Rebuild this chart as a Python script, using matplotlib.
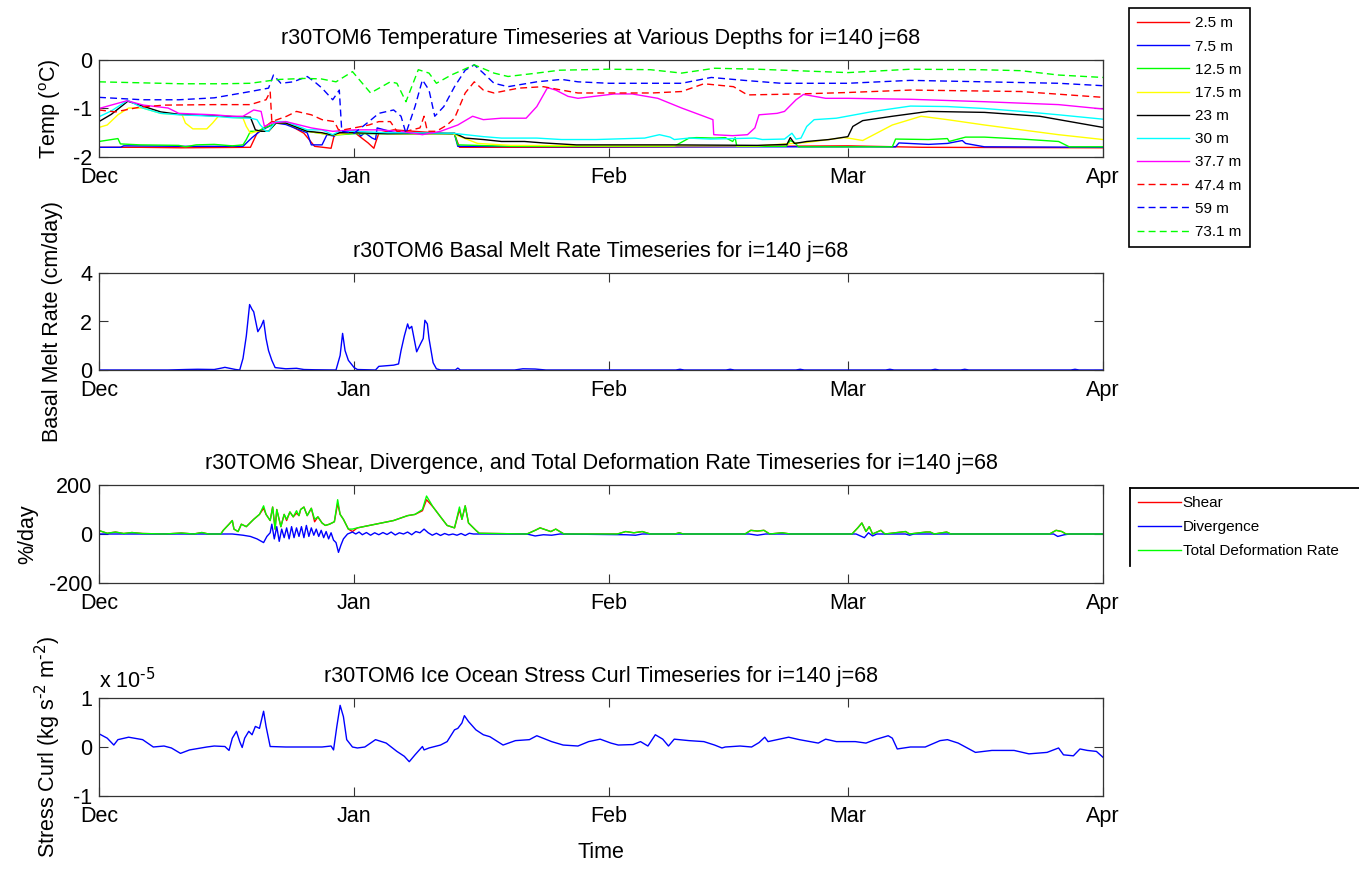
import matplotlib
matplotlib.use('Agg')
import matplotlib.pyplot as plt
from matplotlib.lines import Line2D

plt.rcParams['font.family'] = ['Liberation Sans', 'DejaVu Sans']
plt.rcParams['axes.unicode_minus'] = False
plt.rcParams['mathtext.default'] = 'regular'

# ---------------- data (days since 1 Dec) ----------------
month_days = [0, 31, 62, 91, 122]
month_labels = ['Dec', 'Jan', 'Feb', 'Mar', 'Apr']

depth_labels = ['2.5 m', '7.5 m', '12.5 m', '17.5 m', '23 m', '30 m', '37.7 m', '47.4 m', '59 m', '73.1 m']

t_2p5 = [0, 5, 10, 18.4, 19.2, 21.0, 22.7, 24.9, 26.2, 28.2, 28.6, 29.3, 31.0, 31.4, 32.7, 33.4, 33.6, 34.0, 35.8, 43.2,
         43.8, 60, 91, 100, 122]
temp_2p5 = [-1.80, -1.80, -1.81, -1.80, -1.51, -1.27, -1.30, -1.51, -1.78, -1.82, -1.54, -1.50, -1.47, -1.54, -1.71, -1.82,
            -1.71, -1.51, -1.44, -1.53, -1.80, -1.80, -1.77, -1.80, -1.81]

t_7p5 = [0, 2.6, 3.0, 10, 17.5, 18.6, 19.7, 21.5, 22.7, 25.3, 25.8, 27.1, 27.7, 28.6, 29.3, 31.4, 31.8, 32.3, 33.2, 33.6,
         33.8, 36.0, 43.2, 43.6, 60, 96.8, 97.2, 100.8, 103.1, 104.9, 105.3, 107.6, 122]
temp_7p5 = [-1.80, -1.80, -1.77, -1.78, -1.78, -1.60, -1.45, -1.30, -1.33, -1.50, -1.75, -1.75, -1.54, -1.57, -1.47, -1.47,
            -1.57, -1.50, -1.61, -1.64, -1.40, -1.50, -1.53, -1.78, -1.79, -1.79, -1.71, -1.74, -1.72, -1.66, -1.72, -1.79, -1.80]

t_12p5 = [0, 2.3, 2.6, 5.0, 9.7, 10.5, 11.8, 14.0, 16.2, 17.5, 17.9, 18.4, 19.2, 21.5, 22.7, 25.3, 28.4, 31.0, 36.0, 43.2,
          43.6, 50, 60, 69.9, 71.7, 72.6, 74.8, 76.1, 77.0, 77.3, 77.5, 83.5, 84.0, 84.5, 85.0, 96.4, 96.8, 100.8, 103.1,
          103.3, 105.3, 107.6, 112.1, 116.6, 117.9, 122]
temp_12p5 = [-1.68, -1.62, -1.73, -1.75, -1.76, -1.79, -1.75, -1.74, -1.77, -1.75, -1.64, -1.47, -1.47, -1.30, -1.30, -1.47,
             -1.55, -1.52, -1.52, -1.52, -1.75, -1.78, -1.78, -1.78, -1.61, -1.60, -1.61, -1.60, -1.68, -1.60, -1.78, -1.78,
             -1.66, -1.70, -1.79, -1.79, -1.63, -1.64, -1.62, -1.68, -1.59, -1.59, -1.63, -1.68, -1.79, -1.79]

t_17p5 = [0, 1.0, 2.3, 3.6, 5.3, 7.5, 10.1, 10.5, 11.4, 13.1, 13.8, 14.5, 17.5, 17.9, 18.4, 19.2, 20.6, 21.5, 22.7, 25.3,
          28.4, 31.0, 36.0, 43.0, 46.0, 50, 60, 80, 86, 90.5, 91.4, 92.8, 96.4, 99.9, 103.1, 107.6, 112.1, 116.6, 122]
temp_17p5 = [-1.39, -1.34, -1.13, -0.99, -0.99, -1.10, -1.13, -1.30, -1.42, -1.42, -1.30, -1.16, -1.20, -1.37, -1.51, -1.47,
             -1.47, -1.30, -1.30, -1.47, -1.55, -1.50, -1.52, -1.52, -1.72, -1.76, -1.77, -1.77, -1.70, -1.60, -1.62, -1.66,
             -1.34, -1.16, -1.23, -1.34, -1.44, -1.54, -1.64]

t_23 = [0, 1.5, 3.5, 5.3, 7.5, 9.7, 14, 18.4, 19.0, 19.7, 20.6, 21.5, 22.7, 25.3, 27.1, 28.4, 29.2, 31.0, 35.0, 43.2,
        44.5, 46.7, 48.9, 51.7, 54, 58, 66.7, 68.0, 69.5, 80, 83.6, 84.0, 84.5, 85.3, 86.0, 88.7, 91.0, 91.6, 92.8, 96.4,
        100.8, 107.6, 114.3, 122]
temp_23 = [-1.27, -1.12, -0.85, -0.95, -1.07, -1.12, -1.15, -1.18, -1.44, -1.47, -1.47, -1.30, -1.30, -1.47, -1.50, -1.55,
           -1.50, -1.50, -1.52, -1.51, -1.61, -1.64, -1.68, -1.68, -1.71, -1.75, -1.75, -1.75, -1.75, -1.76, -1.74, -1.60,
           -1.72, -1.70, -1.68, -1.64, -1.58, -1.37, -1.25, -1.16, -1.06, -1.08, -1.16, -1.39]

t_30 = [0, 1.5, 3.5, 5.3, 7.5, 9.7, 14, 16.2, 18.4, 19.2, 19.6, 20.3, 20.6, 21.5, 22.7, 25.3, 27.1, 28.4, 29.2, 31,
        35, 43, 46.7, 48.9, 53.2, 56.2, 60.4, 66.3, 68.1, 69.4, 69.9, 71.7, 74.3, 79.7, 80.6, 83.3, 84.2, 84.7, 85.3, 86.0,
        86.9, 89.6, 94.1, 98.6, 103.1, 107.6, 112.1, 116.6, 122]
temp_30 = [-1.17, -1.05, -0.83, -0.99, -1.10, -1.13, -1.16, -1.19, -1.20, -1.23, -1.34, -1.47, -1.47, -1.27, -1.27, -1.44,
           -1.44, -1.54, -1.47, -1.47, -1.50, -1.51, -1.58, -1.61, -1.61, -1.64, -1.64, -1.61, -1.54, -1.59, -1.64, -1.61,
           -1.63, -1.61, -1.64, -1.63, -1.51, -1.63, -1.61, -1.37, -1.23, -1.20, -1.06, -0.95, -0.96, -1.00, -1.06, -1.13, -1.22]

t_37p7 = [0, 3.4, 5.4, 8.4, 9.7, 14, 16.2, 17.5, 18.8, 19.7, 20.1, 21, 22.7, 25.8, 28.4, 31, 33.6, 36.7, 39.3, 41.5,
          43.6, 45.4, 46.7, 48.9, 51.9, 53.2, 54.5, 55.5, 57, 58.2, 62.6, 64.8, 67.9, 70.8, 73.5, 74.6, 74.7, 77, 78.8, 79.7,
          80.2, 82.4, 83.3, 84.7, 85.6, 88.3, 91, 98.6, 107.6, 116.6, 122]
temp_37p7 = [-1.0, -0.84, -0.93, -0.99, -1.10, -1.13, -1.16, -1.16, -1.03, -1.06, -1.37, -1.30, -1.27, -1.40, -1.47, -1.44,
             -1.44, -1.47, -1.54, -1.47, -1.34, -1.16, -1.23, -1.20, -1.20, -0.96, -0.57, -0.62, -0.75, -0.79, -0.70, -0.70,
             -0.79, -0.99, -1.16, -1.23, -1.54, -1.56, -1.54, -1.40, -1.13, -1.10, -1.06, -0.82, -0.71, -0.79, -0.79, -0.81,
             -0.86, -0.92, -1.01]

t_47p4 = [0, 2, 5, 8, 14, 18.4, 20.3, 20.8, 21.0, 22.8, 24, 25.8, 27.1, 28.6, 29.1, 29.7, 31, 32.8, 34, 35.4,
          36.2, 37.3, 39, 39.5, 39.9, 41, 42.3, 43.2, 44.5, 45.6, 46.7, 48, 51, 54, 56.2, 58.2, 67.2, 70.8, 73.5, 77.1,
          78.8, 85.1, 91, 98.6, 112, 122]
temp_47p4 = [-1.03, -1.07, -0.97, -0.93, -0.92, -0.92, -0.82, -0.65, -1.27, -1.16, -1.06, -1.13, -1.23, -1.27, -1.44, -1.44,
             -1.40, -1.34, -1.27, -1.27, -1.47, -1.47, -1.40, -1.16, -1.47, -1.47, -1.34, -1.20, -0.68, -0.45, -0.62, -0.68,
             -0.58, -0.55, -0.62, -0.68, -0.68, -0.65, -0.49, -0.55, -0.72, -0.70, -0.67, -0.62, -0.65, -0.77]

t_59 = [0, 5.3, 9.7, 14, 18.4, 20.6, 21.2, 22.1, 23.6, 25.3, 26.2, 27.1, 28.4, 29.2, 29.5, 31, 32.8, 34, 35.8, 36.7,
        37.3, 38.4, 39.3, 40.1, 40.8, 41.9, 43.2, 44.5, 45.6, 46.7, 48, 49.7, 53.2, 56.2, 58.2, 62, 70.8, 74.4, 78.4, 82.9,
        91, 98.6, 107.6, 116.6, 122]
temp_59 = [-0.77, -0.82, -0.82, -0.78, -0.65, -0.58, -0.31, -0.48, -0.45, -0.34, -0.45, -0.58, -0.82, -0.62, -1.47, -1.51,
           -1.27, -1.10, -1.03, -1.16, -1.51, -0.96, -0.41, -0.62, -1.16, -0.96, -0.55, -0.21, -0.10, -0.27, -0.48, -0.55,
           -0.45, -0.40, -0.45, -0.48, -0.48, -0.36, -0.42, -0.48, -0.48, -0.42, -0.45, -0.48, -0.53]

t_73p1 = [0, 5, 10, 15, 18.4, 21, 22, 25, 27, 28.8, 30.8, 33, 35.4, 36.2, 37.3, 38.8, 40.1, 41, 42.8, 45.6,
          48, 49.7, 53.2, 56, 62, 67, 70.8, 74.8, 80, 91, 98.6, 107, 112, 116.6, 122]
temp_73p1 = [-0.45, -0.47, -0.49, -0.49, -0.48, -0.42, -0.40, -0.38, -0.39, -0.45, -0.24, -0.68, -0.45, -0.48, -0.86, -0.20,
             -0.27, -0.48, -0.31, -0.10, -0.27, -0.34, -0.27, -0.21, -0.19, -0.20, -0.27, -0.17, -0.19, -0.26, -0.19, -0.20,
             -0.22, -0.31, -0.36]

t_melt = [0, 8.4, 10.5, 12.0, 14.0, 14.9, 15.3, 16.6, 17.1, 17.5, 17.9, 18.3, 18.6, 18.8, 19.3, 19.7, 20.0, 20.3, 20.6, 21.0,
          21.4, 22.7, 24.0, 24.9, 26.2, 28.8, 29.3, 29.6, 29.9, 30.3, 31.0, 31.4, 33.6, 34.0, 35.8, 36.4, 36.7, 37.1, 37.5,
          37.7, 38.0, 38.4, 38.6, 39.1, 39.4, 39.6, 39.9, 40.1, 40.6, 41.0, 41.5, 43.3, 43.6, 43.9, 50.5, 51.5, 53.0, 54.3,
          70.1, 70.6, 71.1, 76.2, 76.7, 77.2, 84.7, 85.2, 85.7, 95.6, 96.1, 96.6, 101.1, 101.6, 102.1, 104.7, 105.2, 105.7,
          118.1, 118.6, 119.1, 122.0]
melt = [0, 0, 0.02, 0.03, 0.02, 0.08, 0.11, 0.02, 0, 0.48, 1.40, 2.70, 2.50, 2.40, 1.58, 1.80, 2.05, 1.30, 0.80, 0.40,
        0.10, 0.05, 0.07, 0.02, 0.01, 0, 0.60, 1.51, 0.80, 0.40, 0.10, 0.02, 0, 0.15, 0.20, 0.25, 0.80, 1.40, 1.90, 1.70,
        1.80, 1.10, 0.75, 1.10, 1.30, 2.05, 1.90, 1.30, 0.30, 0.05, 0, 0, 0.08, 0, 0, 0.05, 0.04, 0, 0, 0.03,
        0, 0, 0.03, 0, 0, 0.03, 0, 0, 0.03, 0, 0, 0.03, 0, 0, 0.03, 0, 0, 0.03, 0, 0]

t_def = [0, 1.0, 2.0, 3.0, 4.0, 5.3, 8.0, 10.0, 11.5, 12.5, 13.3, 14.8, 15.1, 15.8, 16.2, 16.4, 16.9, 17.3, 17.9, 18.8,
         19.5, 20.0, 20.3, 20.8, 21.1, 21.4, 21.6, 22.1, 22.5, 22.8, 23.2, 23.6, 24.0, 24.3, 24.5, 24.9, 25.3, 25.8, 26.2,
         26.6, 27.1, 27.5, 28.0, 28.6, 29.0, 29.3, 29.7, 30.3, 30.8, 31.4, 33.6, 35.8, 37.5, 38.4, 39.3, 39.8, 40.6, 41.5,
         42.3, 43.2, 43.8, 44.1, 44.5, 44.9, 45.8, 46.2, 52.0, 53.0, 53.6, 54.9, 55.5, 56.5, 63.0, 64.0, 65.0, 66.0, 67.0,
         70.0, 70.5, 71.0, 78.5, 79.2, 80.0, 80.8, 81.5, 83.0, 84.0, 91.5, 92.2, 92.7, 93.2, 93.6, 94.0, 95.0, 95.5, 98.0,
         98.5, 100.5, 101.0, 101.5, 103.0, 103.5, 115.5, 116.3, 117.0, 117.5, 122.0]
shear = [14, 3, 8, 2, 6, 2, 0, 4, 0, 6, 0, 0, 15, 40, 55, 20, 10, 40, 30, 60,
         80, 105, 80, 55, 110, 20, 100, 30, 80, 55, 90, 70, 85, 75, 100, 110, 75, 105, 50, 70,
         45, 35, 40, 50, 125, 80, 60, 20, 10, 25, 40, 55, 75, 80, 95, 140, 110, 70, 35, 25,
         100, 60, 115, 45, 15, 3, 0, 15, 25, 10, 20, 0, 0, 10, 5, 10, 0, 0, 5, 0,
         0, 15, 12, 15, 0, 5, 0, 0, 25, 45, 10, 30, 0, 15, 0, 10, 0, 8, 8, 0, 8, 0, 0, 15, 10, 0, 0]
total_def = [14, 3, 8, 2, 6, 2, 0, 4, 0, 6, 0, 0, 15, 40, 55, 20, 10, 40, 30, 60,
             80, 115, 80, 55, 110, 20, 100, 30, 80, 60, 90, 70, 95, 75, 100, 110, 75, 105, 60, 70,
             45, 35, 40, 50, 140, 80, 60, 20, 20, 25, 40, 55, 75, 80, 100, 155, 110, 70, 35, 25,
             110, 60, 115, 45, 15, 3, 0, 15, 25, 10, 20, 0, 0, 10, 5, 10, 0, 0, 5, 0,
             0, 15, 12, 15, 0, 5, 0, 0, 25, 45, 10, 30, 0, 15, 0, 10, 0, 8, 8, 0, 8, 0, 0, 15, 10, 0, 0]

t_div = [0, 14.8, 16.2, 17.5, 18.4, 19.2, 20.0, 20.4, 20.8, 21.0, 21.3, 21.6, 21.9, 22.2, 22.5, 22.8, 23.1, 23.4, 23.7, 24.0,
         24.3, 24.6, 24.9, 25.2, 25.5, 25.8, 26.1, 26.4, 26.7, 27.0, 27.3, 27.6, 27.9, 28.2, 28.5, 28.8, 29.1, 29.4, 29.7, 30.2,
         30.8, 31.2, 31.6, 32.0, 32.5, 33.0, 33.5, 34.0, 34.5, 35.0, 35.5, 36.0, 36.5, 37.0, 37.5, 38.0, 38.5, 39.0, 39.5, 40.0,
         40.5, 41.0, 41.5, 42.0, 42.5, 43.0, 43.5, 44.0, 44.5, 45.0, 45.5, 46.0, 52.0, 53.0, 54.0, 55.0, 56.0, 64.0, 65.2, 66.0,
         79.0, 80.0, 81.0, 92.0, 93.0, 93.5, 94.0, 94.5, 98.0, 98.5, 99.0, 116.0, 116.5, 117.3, 118.0, 122.0]
divergence = [0, 0, 0, -5, -10, -20, -35, -10, 5, 40, -20, 30, -30, 20, -15, 25, -20, 30, -15, 25,
              -10, 30, -15, 35, -10, 25, -5, 20, -10, 15, -15, 10, -20, 5, -25, -35, -75, -45, -20, 0,
              8, 0, 8, -3, 6, -5, 5, -3, 6, -2, 8, -4, 5, 0, 8, -3, 10, 5, 20, 5,
              -5, 3, -6, 2, -4, 0, -5, 2, -6, 3, 0, 0, 0, -8, -3, -5, 0, -3, -5, 0,
              0, -5, 0, 0, -15, 5, -8, 0, 0, -5, 0, 0, -10, -3, 0, 0]

t_curl = [0, 1.0, 1.8, 2.3, 3.6, 5.3, 6.6, 7.9, 8.8, 9.9, 11.0, 13.1, 14.0, 15.3, 15.8, 16.2, 16.7, 17.1, 17.4, 17.7,
          18.2, 18.6, 19.0, 19.5, 20.0, 20.3, 20.8, 22.7, 27.1, 28.2, 28.5, 28.9, 29.3, 29.7, 30.1, 30.8, 31.4, 32.3, 33.0,
          33.6, 34.9, 36.2, 37.1, 37.7, 38.4, 39.3, 39.5, 40.1, 41.5, 42.3, 43.2, 43.6, 44.1, 44.4, 44.9, 45.8, 46.7, 47.5,
          49.1, 50.6, 52.3, 53.2, 55.0, 56.4, 58.2, 59.5, 60.9, 62.2, 63.1, 64.9, 65.8, 66.7, 67.6, 68.5, 69.2, 69.9, 71.7,
          73.5, 74.8, 75.7, 76.1, 77.9, 79.3, 80.2, 80.9, 81.3, 82.4, 83.8, 85.1, 87.4, 88.3, 89.6, 91.9, 93.2, 94.3, 95.9,
          96.4, 97.0, 98.6, 100.4, 102.2, 103.1, 104.4, 106.5, 108.5, 111.2, 113.0, 115.2, 116.6, 117.2, 118.4, 119.2,
          120.1, 121.2, 122.0]
curl_e5 = [0.27, 0.18, 0.04, 0.15, 0.20, 0.15, 0.00, 0.02, -0.02, -0.13, -0.06, 0.00, 0.02, 0.01, -0.07, 0.18, 0.32, 0.11,
           -0.01, 0.18, 0.32, 0.25, 0.42, 0.38, 0.73, 0.42, 0.01, 0.00, 0.00, 0.02, -0.06, 0.42, 0.85, 0.62, 0.15, 0.00,
           -0.02, 0.00, 0.08, 0.15, 0.08, -0.09, -0.19, -0.30, -0.16, 0.01, -0.06, -0.02, 0.04, 0.11, 0.35, 0.38, 0.49,
           0.64, 0.52, 0.35, 0.25, 0.21, 0.04, 0.13, 0.15, 0.23, 0.11, 0.04, 0.02, 0.11, 0.16, 0.08, 0.04, 0.05, 0.11,
           0.02, 0.25, 0.16, 0.02, 0.16, 0.13, 0.11, 0.04, -0.02, 0.00, 0.02, 0.00, 0.09, 0.20, 0.11, 0.15, 0.20, 0.15,
           0.08, 0.16, 0.11, 0.11, 0.08, 0.15, 0.23, 0.18, -0.04, 0.00, 0.00, 0.13, 0.15, 0.08, -0.11, -0.07, -0.07,
           -0.14, -0.11, -0.02, -0.16, -0.18, -0.04, -0.07, -0.09, -0.21]

# ---------------- figure ----------------
W, H = 1359, 871
fig = plt.figure(figsize=(W / 100, H / 100), dpi=100)
FS = 15.5
SPINE = '#333333'
TPAD = 11.5


def px_axes(x0, y0, x1, y1):
    return fig.add_axes([x0 / W, 1 - y1 / H, (x1 - x0) / W, (y1 - y0) / H])


def style(ax, yticks, yticklabels, ylim):
    ax.set_xlim(0, 122)
    ax.set_ylim(*ylim)
    ax.set_xticks(month_days)
    ax.set_xticklabels(month_labels)
    ax.set_yticks(yticks)
    ax.set_yticklabels(yticklabels)
    ax.tick_params(direction='in', top=True, right=True, length=6.5, width=0.8,
                   color=SPINE, labelcolor='black', labelsize=FS)
    ax.tick_params(axis='x', pad=7.5)
    ax.tick_params(axis='y', pad=5)
    for sp in ax.spines.values():
        sp.set_color(SPINE)
        sp.set_linewidth(0.9)


LW = 1.0
DASH = (5, 3)

# Panel 1 ------------------------------------------------
ax1 = px_axes(99, 60, 1103, 157)
series = [(t_2p5, temp_2p5, 'red', '-'), (t_7p5, temp_7p5, 'blue', '-'),
          (t_12p5, temp_12p5, 'lime', '-'), (t_17p5, temp_17p5, 'yellow', '-'),
          (t_23, temp_23, 'black', '-'), (t_30, temp_30, 'cyan', '-'),
          (t_37p7, temp_37p7, 'magenta', '-'), (t_47p4, temp_47p4, 'red', '--'),
          (t_59, temp_59, 'blue', '--'), (t_73p1, temp_73p1, 'lime', '--')]
handles1 = []
for (tt, vv, c, ls), lab in zip(series, depth_labels):
    if ls == '--':
        ln, = ax1.plot(tt, vv, color=c, lw=LW, linestyle=(0, DASH), label=lab)
    else:
        ln, = ax1.plot(tt, vv, color=c, lw=LW, label=lab)
    handles1.append(ln)
style(ax1, [-2, -1, 0], ['-2', '-1', '0'], (-2, 0))
ax1.set_title('r30TOM6 Temperature Timeseries at Various Depths for i=140 j=68', fontsize=FS, pad=TPAD)
ax1.set_ylabel('Temp ($^{o}$C)', fontsize=FS)
ax1.yaxis.set_label_coords(-0.036, 0.5)

leg1 = fig.legend(handles=handles1, labels=depth_labels, loc='upper left',
                  bbox_to_anchor=(1129 / W, 1 - 8 / H), borderaxespad=0, fontsize=11,
                  handlelength=3.35, handletextpad=0.4, labelspacing=0.6, borderpad=0.55,
                  frameon=True, fancybox=False, edgecolor='black', framealpha=1)
leg1.get_frame().set_linewidth(1.2)

# Panel 2 ------------------------------------------------
ax2 = px_axes(99, 273, 1103, 370)
ax2.plot(t_melt, melt, color='blue', lw=LW)
style(ax2, [0, 2, 4], ['0', '2', '4'], (0, 4))
ax2.set_title('r30TOM6 Basal Melt Rate Timeseries for i=140 j=68', fontsize=FS, pad=TPAD)
ax2.set_ylabel('Basal Melt Rate (cm/day)', fontsize=FS)
ax2.yaxis.set_label_coords(-0.036, 0.5)

# Panel 3 ------------------------------------------------
ax3 = px_axes(99, 485, 1103, 583)
h_sh, = ax3.plot(t_def, shear, color='red', lw=LW, label='Shear')
h_dv, = ax3.plot(t_div, divergence, color='blue', lw=LW, label='Divergence')
h_td, = ax3.plot(t_def, total_def, color='lime', lw=LW, label='Total Deformation Rate')
style(ax3, [-200, 0, 200], ['-200', '0', '200'], (-200, 200))
ax3.set_title('r30TOM6 Shear, Divergence, and Total Deformation Rate Timeseries for i=140 j=68', fontsize=FS, pad=TPAD)
ax3.set_ylabel('%/day', fontsize=FS)
ax3.yaxis.set_label_coords(-0.061, 0.5)

leg3 = fig.legend(handles=[h_sh, h_dv, h_td], labels=['Shear', 'Divergence', 'Total Deformation Rate'],
                  loc='upper left', bbox_to_anchor=(1132 / W, 1 - 490 / H), borderaxespad=0, fontsize=11,
                  handlelength=2.8, handletextpad=0.1, labelspacing=0.65, borderpad=0.42, frameon=False)
fig.add_artist(Line2D([1130 / W, 1.0], [1 - 488 / H, 1 - 488 / H], color='black', lw=1.3,
                      transform=fig.transFigure))
fig.add_artist(Line2D([1130 / W, 1130 / W], [1 - 488 / H, 1 - 566 / H], color='black', lw=1.3,
                      transform=fig.transFigure))

# Panel 4 ------------------------------------------------
ax4 = px_axes(99, 698, 1103, 796)
ax4.plot(t_curl, curl_e5, color='blue', lw=LW)
style(ax4, [-1, 0, 1], ['-1', '0', '1'], (-1, 1))
ax4.set_title('r30TOM6 Ice Ocean Stress Curl Timeseries for i=140 j=68', fontsize=FS, pad=TPAD)
ax4.set_ylabel(r'Stress Curl (kg s$^{\text{-2}}$ m$^{\text{-2}}$)', fontsize=FS)
ax4.yaxis.set_label_coords(-0.036, 0.5)
ax4.set_xlabel('Time', fontsize=FS)
ax4.xaxis.set_label_coords(0.5, -0.47)
ax4.text(0, 1 + 10 / 98, r'x 10$^{\text{-5}}$', transform=ax4.transAxes, ha='left', va='baseline', fontsize=FS)

fig.savefig('out.png', dpi=100, facecolor='white')
